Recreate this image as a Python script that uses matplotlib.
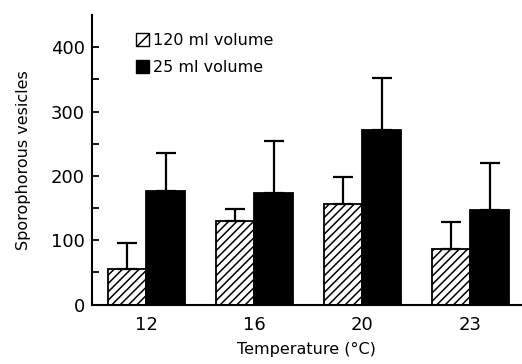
import numpy as np
import matplotlib
matplotlib.use('Agg')
import matplotlib.pyplot as plt
from matplotlib.patches import Patch

temps = ['12', '16', '20', '23']
vol120 = [56, 130, 156, 86]
vol120_err = [40, 18, 42, 42]
vol25 = [176, 174, 271, 147]
vol25_err = [60, 80, 81, 73]

plt.rcParams['font.family'] = 'DejaVu Sans'
plt.rcParams['hatch.linewidth'] = 1.1

fig = plt.figure(figsize=(5.22, 3.64), dpi=100)
ax = fig.add_axes([0.176, 0.163, 0.824, 0.796])

x = np.arange(len(temps))
w = 0.36

ax.bar(x - w/2, vol120, w, color='white', edgecolor='black', linewidth=1.3,
       hatch='////', label='120 ml volume')
ax.bar(x + w/2, vol25, w, color='black', edgecolor='black', linewidth=1.3,
       label='25 ml volume')

# upper error bars only
ax.errorbar(x - w/2, vol120, yerr=[np.zeros(4), vol120_err], fmt='none',
            ecolor='black', elinewidth=1.6, capsize=7.5, capthick=1.6)
ax.errorbar(x + w/2, vol25, yerr=[np.zeros(4), vol25_err], fmt='none',
            ecolor='black', elinewidth=1.6, capsize=7.5, capthick=1.6)

ax.set_xlim(-0.505, 3.477)
ax.set_ylim(0, 450)
ax.set_yticks([0, 100, 200, 300, 400])
ax.set_yticks([50, 150, 250, 350], minor=True)
ax.set_xticks(x)
ax.set_xticklabels(temps)
ax.tick_params(axis='y', direction='in', length=5, width=1.3, labelsize=13, pad=5)
ax.tick_params(axis='y', which='minor', direction='in', length=5, width=1.3)
ax.tick_params(axis='x', length=0, labelsize=13, pad=8)

for s in ['top', 'right']:
    ax.spines[s].set_visible(False)
ax.spines['left'].set_linewidth(1.5)
ax.spines['bottom'].set_linewidth(1.5)

ax.set_ylabel('Sporophorous vesicles', fontsize=11.5, labelpad=14)
ax.set_xlabel('Temperature (°C)', fontsize=11.5, labelpad=6)

handles = [Patch(facecolor='white', edgecolor='black', hatch='//', label='120 ml volume'),
           Patch(facecolor='black', edgecolor='black', label='25 ml volume')]
ax.legend(handles=handles, loc='upper left', bbox_to_anchor=(0.085, 0.965), frameon=False,
          fontsize=11.5, handlelength=0.8, handleheight=0.8, handletextpad=0.25,
          labelspacing=0.75, borderpad=0)

fig.savefig('out.png', dpi=100)
